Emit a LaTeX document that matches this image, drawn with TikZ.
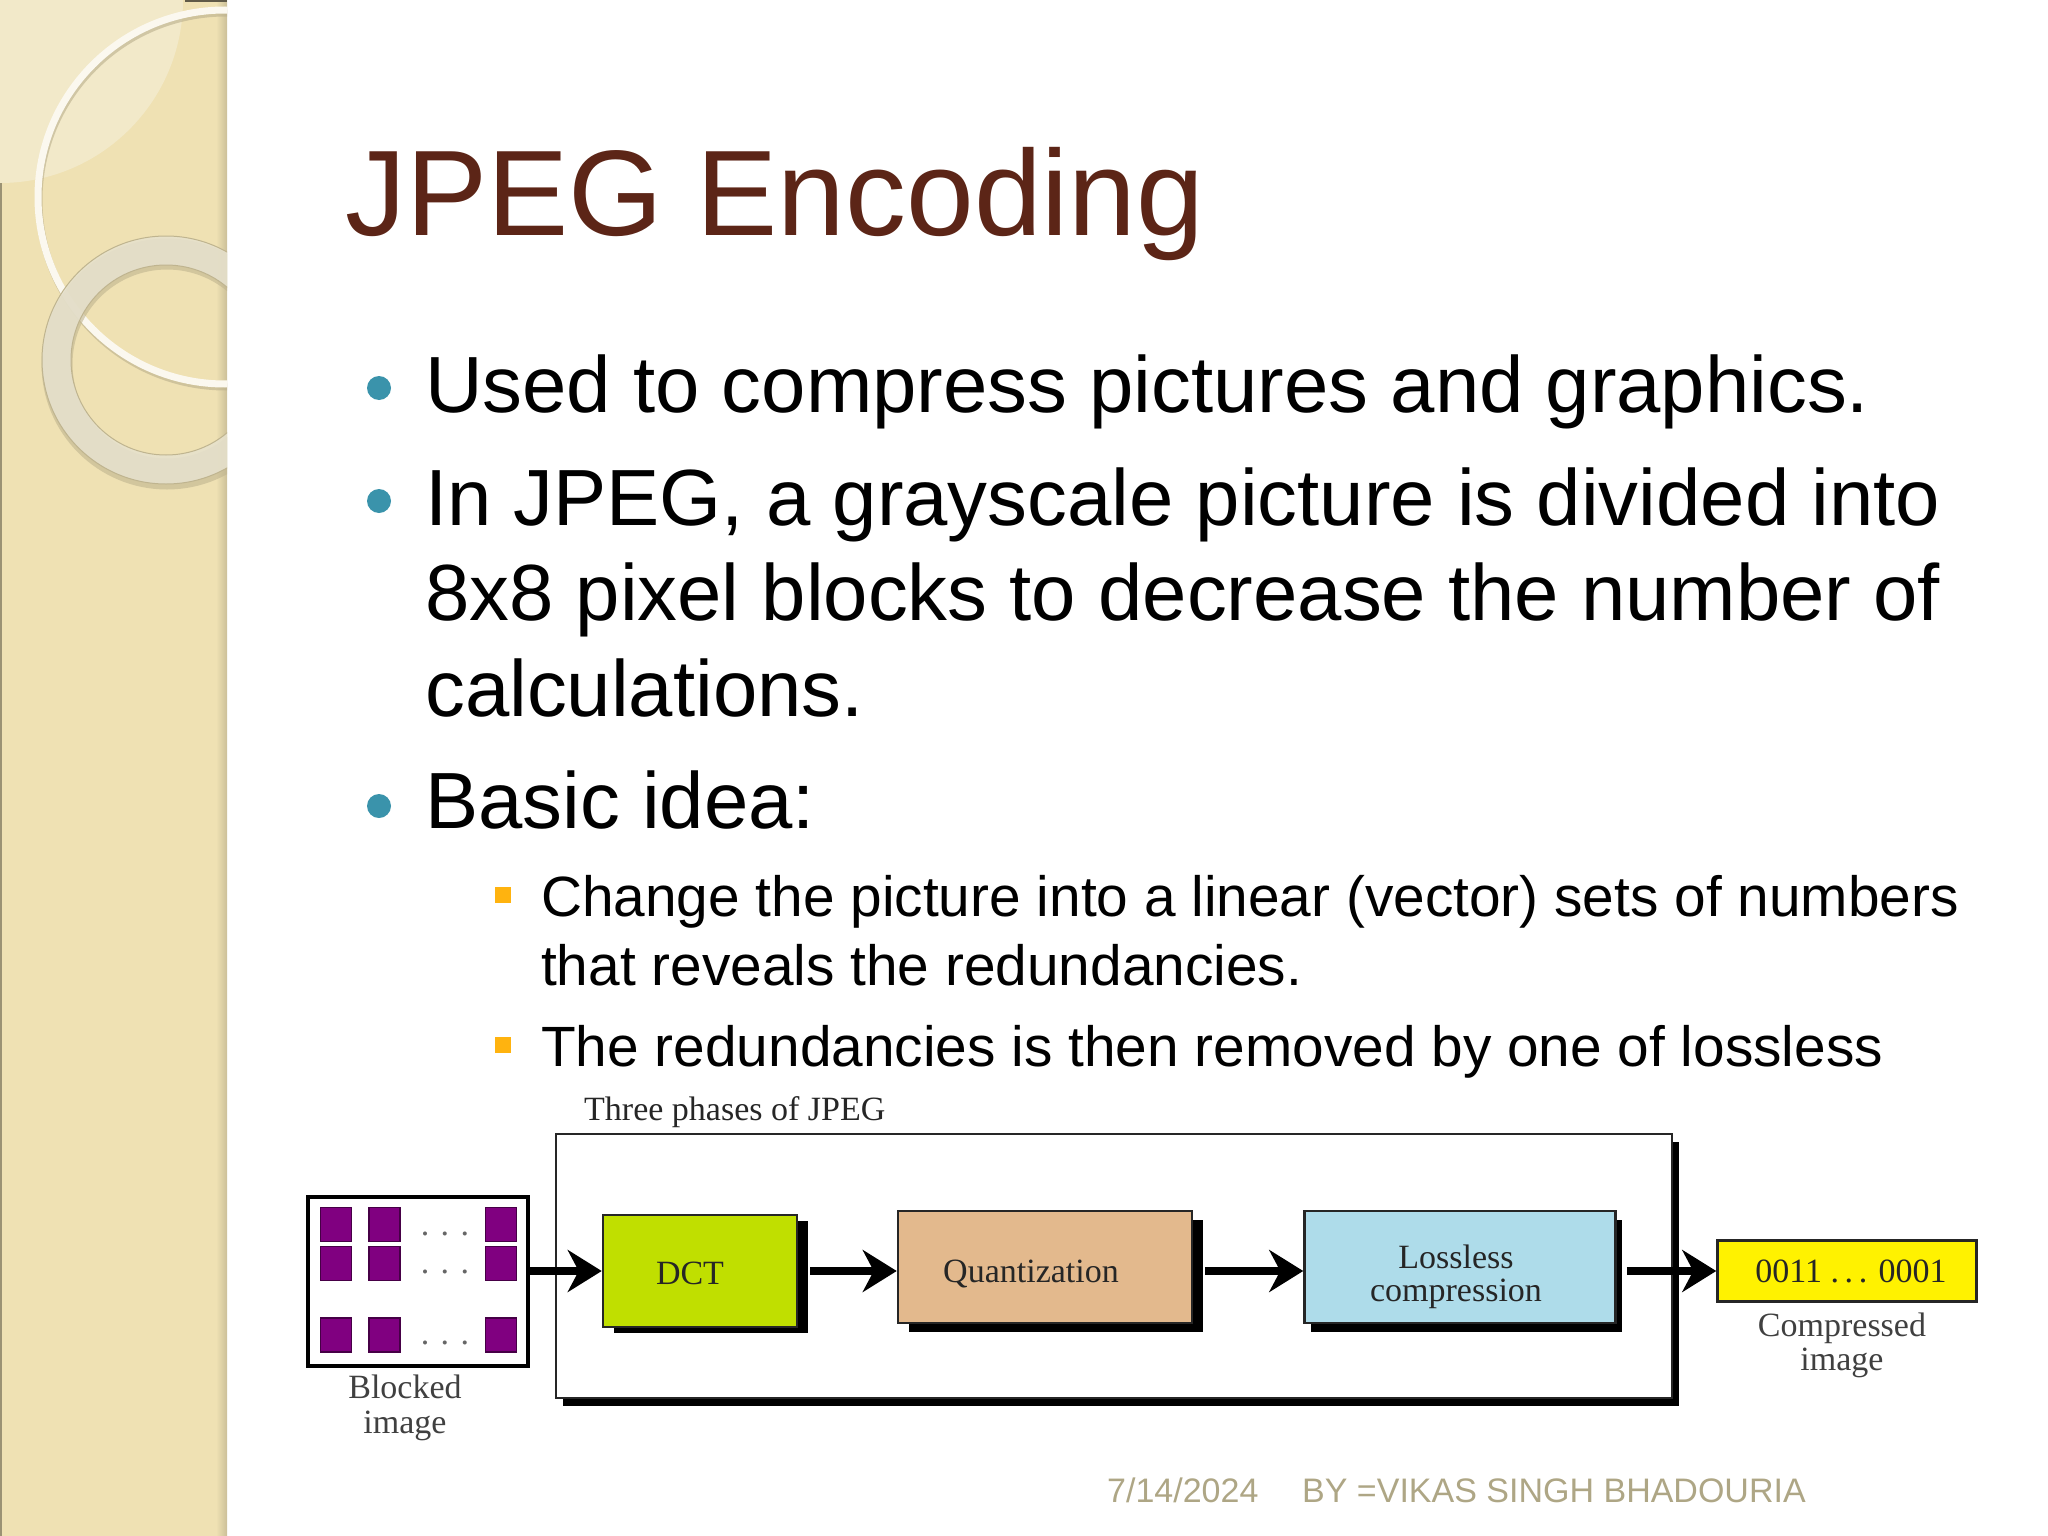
\documentclass[tikz,border=0pt]{standalone}
\usepackage{fontspec}
\setmainfont{Liberation Sans}
\newfontfamily\bookfont{Liberation Serif}
\usetikzlibrary{positioning}
\usetikzlibrary{shadows}
\usetikzlibrary{arrows.meta}
\definecolor{sidesand}{HTML}{EFE1B3}
\definecolor{sidepale}{HTML}{F2E9C9}
\definecolor{sidering}{HTML}{E6E1CD}
\definecolor{titlebrown}{HTML}{5C2517}
\definecolor{bulletteal}{HTML}{3A93AB}
\definecolor{bulletgold}{HTML}{FFB30F}
\definecolor{footgrey}{HTML}{AEA685}
\definecolor{dctgreen}{HTML}{C0DF00}
\definecolor{quanttan}{HTML}{E3B98D}
\definecolor{losslessblue}{HTML}{AEDCEA}
\tikzset{
    titletext/.style={anchor=base west, inner sep=0pt, text=titlebrown, font=\fontsize{121.7}{140}\selectfont},
    bodytext/.style={anchor=north west, inner sep=0pt, align=left, font=\fontsize{79.7}{95.5}\selectfont},
    subtext/.style={anchor=north west, inner sep=0pt, align=left, font=\fontsize{56.8}{69}\selectfont},
    footertext/.style={anchor=base west, inner sep=0pt, text=footgrey, font=\fontsize{34}{40}\selectfont},
    dotbullet/.style={circle, fill=bulletteal, minimum size=24pt, inner sep=0pt},
    squarebullet/.style={rectangle, fill=bulletgold, minimum size=16pt, inner sep=0pt},
    booktext/.style={inner sep=0pt, align=center, text=black!85, font=\bookfont\fontsize{34}{34}\selectfont},
    stagebox/.style={draw=black!85, line width=2.5pt, inner sep=0pt, align=center, text=black!85, font=\bookfont\fontsize{34}{33}\selectfont},
    pixelblock/.style={draw=black!45!violet, fill=violet, line width=1.5pt, minimum width=31pt, minimum height=34pt, inner sep=0pt},
    flowarrow/.style={line width=8pt, -{Stealth[length=34pt,width=42pt,inset=11pt]}},
}
\begin{document}
\begin{tikzpicture}[x=1pt,y=-1pt]
    \useasboundingbox (0,0) rectangle (2048,1536);
    \begin{scope}
        \clip (0,0) rectangle (227,1536);
        \fill[sidesand] (0,0) rectangle (227,1536);
        \fill[sidepale] (0,0) -- (183,0) arc[start angle=0, end angle=90, radius=183] -- cycle;
        \fill[black!35!sidesand] (0,183) rectangle (2,1536);
        \shade[left color=sidesand, right color=black!15!sidesand] (216,0) rectangle (227,1536);
        \fill[black!60!sidesand] (185,0) rectangle (227,2);
        \draw[black!22!sidesand, line width=7pt, opacity=.6] (226,200) circle[radius=187];
        \draw[sidepale!30!white, line width=7pt] (225,197) circle[radius=187];
        \draw[black!20!sidesand, line width=31pt, opacity=.6] (167,364) circle[radius=110];
        \draw[sidering, line width=29pt, opacity=.88] (166,360) circle[radius=109.5];
        \draw[black!20!sidesand, line width=1pt] (166,360) circle[radius=124];
        \draw[black!20!sidesand, line width=1pt] (166,360) circle[radius=95];
    \end{scope}

    \node[titletext] (title) at (345,235) {JPEG Encoding};

    \node[dotbullet] (dot1) at (379,388) {};
    \node[bodytext] (used) at (425,354.5) {Used to compress pictures and graphics.};
    \node[dotbullet] (dot2) at (379,501) {};
    \node[bodytext] (gray) at (425,467.5) {In JPEG, a grayscale picture is divided into\\8x8 pixel blocks to decrease the number of\\calculations.};
    \node[dotbullet] (dot3) at (379,806) {};
    \node[bodytext] (basic) at (425,770.5) {Basic idea:};
    \node[squarebullet] (sq1) at (503,895) {};
    \node[subtext] (change) at (541,875) {Change the picture into a linear (vector) sets of numbers\\that reveals the redundancies.};
    \node[squarebullet] (sq2) at (503,1045) {};
    \node[subtext] (redund) at (541,1025) {The redundancies is then removed by one of lossless};

    \node[stagebox, fill=white, minimum width=1116pt, minimum height=264pt, line width=2.5pt,
        drop shadow={shadow xshift=7pt, shadow yshift=-8pt, fill=black, opacity=1}] (phases) at (1114,1266) {};
    \node[booktext, anchor=base west] (phaseslabel) at (584,1120) {Three phases of JPEG};

    \node[draw=black, line width=4pt, fill=white, minimum width=220pt, minimum height=169pt, inner sep=0pt] (blocked) at (418,1281) {};
    \foreach \x/\col in {336/a,384.5/b,501/c}
        \foreach \y/\row in {1224.5/a,1263.5/b,1335/c}
            \node[pixelblock] (block\col\row) at (\x,\y) {};
    \foreach \y/\row in {1235/a,1273/b,1344/c}
        \node[booktext, anchor=base, text=black!60] (dots\row) at (445,\y) {. . .};
    \node[booktext, below=7pt of blocked, xshift=-13pt, text=black!75, font=\bookfont\fontsize{34}{35}\selectfont] (blockedlabel) {Blocked\\image};

    \node[stagebox, fill=dctgreen, minimum width=194pt, minimum height=112pt,
        drop shadow={shadow xshift=11pt, shadow yshift=-6pt, fill=black, opacity=1}] (dct) at (700,1271) {\hspace*{-20pt}\rule{0pt}{28pt}DCT};
    \node[stagebox, fill=quanttan, minimum width=294pt, minimum height=112pt,
        drop shadow={shadow xshift=11pt, shadow yshift=-9pt, fill=black, opacity=1}] (quant) at (1045,1267) {\hspace*{-28pt}\rule{0pt}{36pt}Quantization};
    \node[stagebox, fill=losslessblue, minimum width=311pt, minimum height=112pt,
        drop shadow={shadow xshift=6pt, shadow yshift=-9pt, fill=black, opacity=1}] (lossless) at (1460,1267) {\hspace*{-8pt}\rule{0pt}{44pt}Lossless\\\hspace*{-8pt}compression};
    \node[stagebox, fill=yellow, minimum width=259pt, minimum height=61pt] (output) at (1847,1271) {\hspace*{8pt}0011 .\,.\,. 0001};
    \node[booktext, below=10pt of output, xshift=-5pt, text=black!75, font=\bookfont\fontsize{34}{34}\selectfont] (outputlabel) {Compressed\\image};

    \draw[flowarrow] (blocked.east |- dct.west) -- (dct.west);
    \draw[flowarrow] ([xshift=12pt]dct.east) -- (quant.west |- dct.east);
    \draw[flowarrow] ([xshift=12pt]quant.east |- dct.east) -- (lossless.west |- dct.east);
    \draw[flowarrow] ([xshift=10pt]lossless.east |- dct.east) -- (output.west);

    \node[footertext] (date) at (1107,1502) {7/14/2024};
    \node[footertext] (author) at (1302,1502) {BY =VIKAS SINGH BHADOURIA};
\end{tikzpicture}
\end{document}
